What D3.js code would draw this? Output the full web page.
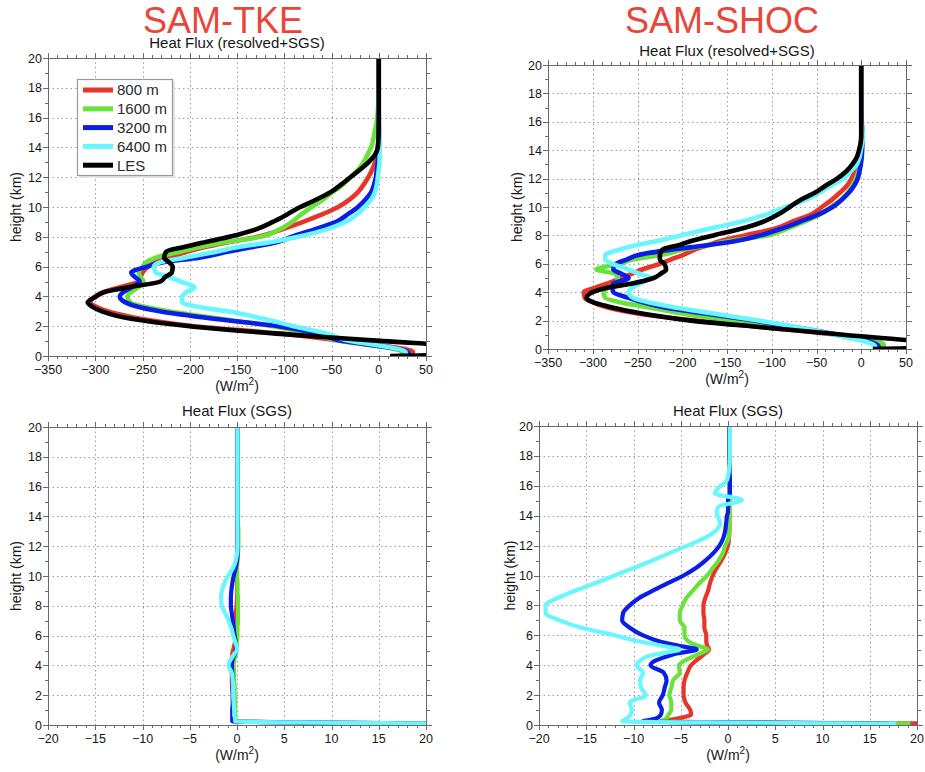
<!DOCTYPE html>
<html lang="en">
<head>
<meta charset="UTF-8">
<title>Heat flux profiles</title>
<script src="https://cdn.jsdelivr.net/npm/d3@7"></script>
<style>
  body { margin: 0; background: #fff; }
  text { font-family: 'Liberation Sans', Arial, sans-serif; fill: #161616; }
  .grid line { stroke: #9c9c9c; stroke-width: 1; stroke-dasharray: 1.5,3; }
  .frame { fill: none; stroke: #6a6a6a; stroke-width: 1; }
  .tick { stroke: #6a6a6a; stroke-width: 1; }
  .tl { font-size: 12.5px; }
  .curve { fill: none; stroke-linejoin: round; stroke-linecap: butt; }
</style>
</head>
<body>
<script>
    // legend / series
    const seriesNames = ["800 m", "1600 m", "3200 m", "6400 m", "LES"];
    const seriesColors = ["#e8352b", "#6ae23c", "#0a1ee6", "#6af6ff", "#000000"];

    // heights (km) for the resolved+SGS profiles
    const heightsTot = [
        0, 0.1, 0.3, 0.6, 1, 1.5, 2, 2.5, 3, 3.3,
        3.6, 4, 4.3, 4.6, 5, 5.3, 5.6, 6, 6.3, 6.6,
        7, 7.3, 7.6, 8, 8.5, 9, 9.5, 10, 10.5, 11,
        11.5, 12, 12.5, 13, 13.5, 14, 15, 16, 18, 20];

    // SAM-TKE, heat flux resolved+SGS (W/m2)
    const tkeTot800 = [
        30, 36, 36, 14, -38, -102, -195, -252, -287, -299,
        -305, -300, -291, -275, -254, -252, -250, -244, -236, -222,
        -203, -185, -162, -128, -102, -80, -60, -43, -31, -22,
        -16, -11, -7, -4, -2, -1, 0, 0, 0, 0];
    const tkeTot1600 = [
        22, 25, 24, 5, -40, -72, -112, -167, -222, -248,
        -263, -266, -262, -255, -249, -252, -254, -250, -246, -236,
        -210, -190, -165, -125, -105, -92, -82, -71, -59, -49,
        -38, -30, -22, -16, -12, -8, -4.5, -1.5, 0, 0];
    const tkeTot3200 = [
        29, 32, 30, 8, -38, -65, -106, -175, -232, -255,
        -268, -274, -270, -262, -253, -258, -262, -245, -228, -190,
        -160, -135, -110, -92, -68, -45, -33, -22, -14, -8,
        -5, -3, -2, -1, -0.5, 0, 0, 0, 0, 0];
    const tkeTot6400 = [
        26, 29, 28, 10, -30, -55, -90, -122, -160, -192,
        -208, -208, -203, -195, -210, -222, -236, -238, -231, -205,
        -172, -150, -118, -85, -55, -35, -23, -15, -8, -4,
        -2, -1, 0, 0.8, 1, 1, 1, 0, 0, 0];
    const tkeTotLES = [
        12, 80, 95, 90, 5, -108, -200, -262, -293, -303,
        -308, -299, -290, -266, -231, -226, -219, -218, -222, -227,
        -225, -207, -187, -158, -130, -112, -97, -83, -66, -51,
        -40, -30, -20, -11, -4, -1, 0, 0, 0, 0];

    // SAM-SHOC, heat flux resolved+SGS (W/m2)
    const shocTot800 = [
        20, 24, 25, 12, -28, -105, -185, -250, -288, -300,
        -309, -310, -298, -284, -268, -256, -245, -225, -213, -200,
        -186, -172, -157, -130, -95, -76, -55, -44, -33, -24,
        -16, -11, -7, -2, -0.5, 0, 0, 0, 0, 0];
    const shocTot1600 = [
        22, 25, 25, 10, -25, -80, -145, -200, -243, -270,
        -286, -288, -283, -275, -272, -275, -296, -270, -255, -225,
        -198, -172, -147, -105, -82, -62, -45, -34, -23, -15,
        -10, -6, -3, -1.5, -0.5, 0, 0, 0, 0, 0];
    const shocTot3200 = [
        18, 20, 18, 5, -25, -70, -120, -175, -225, -245,
        -260, -277, -278, -277, -260, -268, -277, -274, -262, -250,
        -212, -172, -140, -113, -88, -67, -47, -32, -22, -14,
        -8, -4, -2, -0.5, 0.5, 1, 1.5, 0.5, 0, 0];
    const shocTot6400 = [
        13, 16, 14, 0, -30, -68, -115, -165, -214, -238,
        -255, -260, -256, -248, -236, -248, -260, -278, -286, -286,
        -270, -252, -228, -202, -168, -132, -105, -84, -62, -47,
        -34, -20, -12, -5, -2, -0.5, 2, 0, 0, 0];
    const shocTotLES = [
        13, 80, 85, 55, -20, -105, -190, -245, -283, -300,
        -307, -300, -285, -257, -232, -224, -218, -220, -225, -225,
        -222, -205, -190, -165, -132, -108, -92, -80, -68, -52,
        -40, -27, -17, -10, -5, -2.5, 0, 0, 0, 0];

    // heights (km) for the SGS profiles
    const heightsSgs = [
        0.1, 0.25, 0.4, 0.7, 1, 1.5, 2, 2.5, 3, 3.5,
        4, 4.3, 4.6, 4.8, 5.05, 5.3, 5.6, 6, 6.5, 7,
        7.5, 8, 8.5, 9, 9.5, 10, 10.5, 11, 11.5, 12,
        12.5, 13, 13.5, 14, 14.3, 14.6, 15.05, 15.5, 15.8, 16.4,
        17, 18, 20];

    // SAM-TKE, heat flux SGS (W/m2)
    const tkeSgs800 = [
        21, -0.3, -0.3, -0.35, -0.4, -0.4, -0.45, -0.5, -0.55, -0.55,
        -0.55, -0.5, -0.5, -0.5, -0.4, -0.3, -0.2, -0.15, -0.1, -0.1,
        -0.1, -0.05, 0, 0, 0, 0, 0, 0, 0, 0,
        0, 0, 0, 0, 0, 0, 0, 0, 0, 0,
        0, 0, 0];
    const tkeSgs1600 = [
        21, -0.15, -0.15, -0.2, -0.2, -0.2, -0.25, -0.25, -0.3, -0.3,
        -0.35, -0.3, -0.2, -0.1, 0, 0, 0, 0.05, 0.05, 0.1,
        0.1, 0.1, 0.1, 0.05, 0.05, 0, 0, 0.05, 0.1, 0.15,
        0.15, 0.15, 0.1, 0.05, 0.05, 0.05, 0.05, 0.05, 0.05, 0.05,
        0.05, 0.05, 0.05];
    const tkeSgs3200 = [
        21, -0.5, -0.5, -0.5, -0.5, -0.45, -0.45, -0.45, -0.45, -0.5,
        -0.55, -0.5, -0.35, -0.2, -0.1, -0.1, -0.15, -0.25, -0.35, -0.45,
        -0.55, -0.65, -0.65, -0.6, -0.5, -0.35, -0.15, 0, 0.05, 0.05,
        0.05, 0.05, 0.05, 0.05, 0.05, 0.05, 0.05, 0.05, 0.05, 0.05,
        0.05, 0.05, 0.05];
    const tkeSgs6400 = [
        21, -0.2, -0.2, -0.3, -0.3, -0.35, -0.4, -0.4, -0.45, -0.55,
        -0.9, -0.75, -0.45, -0.25, 0, -0.05, -0.2, -0.4, -0.6, -0.9,
        -1.25, -1.6, -1.7, -1.6, -1.35, -0.95, -0.45, -0.15, 0, 0.05,
        0.05, 0.05, 0.05, 0.05, 0.05, 0.05, 0.05, 0.05, 0.05, 0.05,
        0.05, 0.05, 0.05];

    // SAM-SHOC, heat flux SGS (W/m2)
    const shocSgs800 = [
        22, -6.8, -5.6, -3.9, -4.0, -4.5, -4.7, -4.7, -4.6, -4.3,
        -3.9, -3.4, -2.8, -2.4, -2.0, -2.2, -2.3, -2.3, -2.5, -2.5,
        -2.6, -2.6, -2.4, -2.1, -1.9, -1.6, -1.2, -0.7, -0.3, 0,
        0.1, 0.15, 0.15, 0.15, 0.15, 0.15, 0.15, 0.15, 0.15, 0.15,
        0.15, 0.15, 0.15];
    const shocSgs1600 = [
        19.3, -7.1, -6.6, -6.3, -6.0, -6.0, -6.2, -6.0, -5.8, -5.1,
        -5.2, -4.6, -3.6, -2.9, -2.1, -3.2, -4.2, -4.6, -4.6, -5.1,
        -5.1, -4.8, -4.4, -3.7, -3.0, -2.2, -1.6, -1.0, -0.55, -0.3,
        0.05, 0.15, 0.15, 0.15, 0.15, 0.15, 0.15, 0.15, 0.15, 0.15,
        0.15, 0.15, 0.15];
    const shocSgs3200 = [
        17, -9.0, -7.8, -7.1, -7.0, -7.3, -6.9, -6.7, -6.5, -6.8,
        -8.2, -7.7, -6.4, -5.3, -3.3, -5.2, -7.3, -9.0, -10.4, -11.2,
        -11.1, -10.4, -9.4, -7.9, -6.3, -4.7, -3.4, -2.4, -1.55, -0.9,
        -0.5, -0.3, -0.2, -0.1, 0, 0, 0, 0.2, 0.2, 0.2,
        0.15, 0.15, 0.15];
    const shocSgs6400 = [
        17.8, -11.2, -10.8, -10.3, -10.2, -10.4, -8.7, -9.2, -9.3, -9.0,
        -9.7, -9.3, -8.5, -7.0, -5.1, -7.0, -9.5, -12.0, -15.5, -17.8,
        -19.3, -19.3, -18.0, -16.1, -14.0, -12.0, -10.0, -8.0, -6.2, -4.3,
        -2.5, -1.3, -0.85, -1.1, -1.2, -1.0, 1.45, -1.4, -1.1, -0.1,
        0.1, 0.2, 0.2];

    const totTicks = d3.range(-350, 51, 50);
    const sgsTicks = d3.range(-20, 21, 5);
    const heightTicks = d3.range(0, 21, 2);

    const width = 925, height = 772;
    const svg = d3.select("body").append("svg").attr("width", width).attr("height", height);

    const panels = [
        {x0: 48, x1: 426, y0: 58, y1: 356, domain: [-350, 50], ticks: totTicks, minor: 10,
         heights: heightsTot, series: [tkeTot800, tkeTot1600, tkeTot3200, tkeTot6400, tkeTotLES],
         title: "Heat Flux (resolved+SGS)", titleX: 237, titleY: 48, unitY: 391, ylabX: 16, legend: true},
        {x0: 548, x1: 906, y0: 65, y1: 349, domain: [-350, 50], ticks: totTicks, minor: 10,
         heights: heightsTot, series: [shocTot800, shocTot1600, shocTot3200, shocTot6400, shocTotLES],
         title: "Heat Flux (resolved+SGS)", titleX: 727, titleY: 56, unitY: 384, ylabX: 517},
        {x0: 48, x1: 426, y0: 427, y1: 725, domain: [-20, 20], ticks: sgsTicks, minor: 1,
         heights: heightsSgs, series: [tkeSgs800, tkeSgs1600, tkeSgs3200, tkeSgs6400],
         title: "Heat Flux (SGS)", titleX: 237, titleY: 416, unitY: 760, ylabX: 16},
        {x0: 539, x1: 917, y0: 426, y1: 725, domain: [-20, 20], ticks: sgsTicks, minor: 1,
         heights: heightsSgs, series: [shocSgs800, shocSgs1600, shocSgs3200, shocSgs6400],
         title: "Heat Flux (SGS)", titleX: 728, titleY: 416, unitY: 760, ylabX: 510}
    ];

    // big model titles
    svg.append("text").attr("x", 223).attr("y", 33).attr("text-anchor", "middle")
        .style("font-size", "36px").style("fill", "#e8463a").text("SAM-TKE");
    svg.append("text").attr("x", 722).attr("y", 33).attr("text-anchor", "middle")
        .style("font-size", "36px").style("fill", "#e8463a").text("SAM-SHOC");

    const fmt = d3.format("d");

    panels.forEach((p, pi) => {
        const x = d3.scaleLinear().domain(p.domain).range([p.x0, p.x1]);
        const y = d3.scaleLinear().domain([0, 20]).range([p.y1, p.y0]);
        const g = svg.append("g");

        const clipId = "clip" + pi;
        svg.append("clipPath").attr("id", clipId).append("rect")
            .attr("x", p.x0).attr("y", p.y0).attr("width", p.x1 - p.x0).attr("height", p.y1 - p.y0);

        // dotted grid
        const grid = g.append("g").attr("class", "grid");
        grid.selectAll(".gx").data(p.ticks.slice(1, -1)).join("line")
            .attr("x1", d => Math.round(x(d)) + 0.5).attr("x2", d => Math.round(x(d)) + 0.5)
            .attr("y1", p.y0).attr("y2", p.y1);
        grid.selectAll(".gy").data(heightTicks.slice(1, -1)).join("line")
            .attr("class", "gy")
            .attr("y1", d => Math.round(y(d)) + 0.5).attr("y2", d => Math.round(y(d)) + 0.5)
            .attr("x1", p.x0).attr("x2", p.x1);

        // profiles
        const line = d3.line()
            .x(d => x(d[0]))
            .y(d => y(d[1]))
            .curve(d3.curveMonotoneY);
        const curves = g.append("g").attr("clip-path", `url(#${clipId})`);
        p.series.forEach((vals, si) => {
            const pts = vals.map((v, i) => [v, p.heights[i]]);
            curves.append("path").attr("class", "curve")
                .attr("d", line(pts))
                .attr("stroke", seriesColors[si])
                .attr("stroke-width", pi < 2 ? 4.6 : 4.2);
        });

        // frame and ticks (outward on all four sides)
        g.append("rect").attr("class", "frame")
            .attr("x", p.x0 + 0.5).attr("y", p.y0 + 0.5)
            .attr("width", p.x1 - p.x0).attr("height", p.y1 - p.y0);

        const xMinor = d3.range(p.domain[0], p.domain[1] + 0.001, p.minor);
        const yMinor = d3.range(0, 20.001, 1);
        const tk = g.append("g");
        xMinor.forEach(v => {
            const len = p.ticks.includes(v) ? 5 : 3;
            const xx = Math.round(x(v)) + 0.5;
            tk.append("line").attr("class", "tick").attr("x1", xx).attr("x2", xx)
                .attr("y1", p.y1).attr("y2", p.y1 + len);
            tk.append("line").attr("class", "tick").attr("x1", xx).attr("x2", xx)
                .attr("y1", p.y0).attr("y2", p.y0 - len);
        });
        yMinor.forEach(v => {
            const len = heightTicks.includes(v) ? 5 : 3;
            const yy = Math.round(y(v)) + 0.5;
            tk.append("line").attr("class", "tick").attr("y1", yy).attr("y2", yy)
                .attr("x1", p.x0).attr("x2", p.x0 - len);
            tk.append("line").attr("class", "tick").attr("y1", yy).attr("y2", yy)
                .attr("x1", p.x1 + 1).attr("x2", p.x1 + 1 + len);
        });

        // tick labels
        g.selectAll(".xl").data(p.ticks).join("text")
            .attr("class", "tl").attr("text-anchor", "middle")
            .attr("x", d => x(d)).attr("y", p.y1 + 18)
            .text(d => fmt(d));
        g.selectAll(".yl").data(heightTicks).join("text")
            .attr("class", "tl").attr("text-anchor", "end")
            .attr("x", p.x0 - 6).attr("y", d => y(d)).attr("dy", "0.36em")
            .text(d => d);

        // titles
        g.append("text").attr("x", p.titleX).attr("y", p.titleY).attr("text-anchor", "middle")
            .style("font-size", "15px").text(p.title);
        const unit = g.append("text").attr("x", (p.x0 + p.x1) / 2).attr("y", p.unitY)
            .attr("text-anchor", "middle").style("font-size", "14px");
        unit.append("tspan").text("(W/m");
        unit.append("tspan").attr("dy", -6).style("font-size", "10px").text("2");
        unit.append("tspan").attr("dy", 6).text(")");
        g.append("text")
            .attr("transform", `translate(${p.ylabX},${(p.y0 + p.y1) / 2}) rotate(-90)`)
            .attr("text-anchor", "middle").attr("dy", "0.35em")
            .style("font-size", "14px").text("height (km)");

        if (p.legend) {
            const lg = g.append("g");
            lg.append("rect").attr("x", 79).attr("y", 81).attr("width", 96).attr("height", 97)
                .attr("fill", "#e4e4e4");
            lg.append("rect").attr("x", 77.5).attr("y", 79.5).attr("width", 95).attr("height", 96)
                .attr("fill", "#fff").attr("stroke", "#9a9a9a").attr("stroke-width", 1.2);
            seriesNames.forEach((name, i) => {
                const ly = 90 + i * 18.8;
                lg.append("line").attr("x1", 83).attr("x2", 113).attr("y1", ly).attr("y2", ly)
                    .attr("stroke", seriesColors[i]).attr("stroke-width", 5);
                lg.append("text").attr("x", 117).attr("y", ly).attr("dy", "0.36em")
                    .style("font-size", "15px").style("fill", "#2a2a2a").text(name);
            });
        }
    });
</script>
</body>
</html>
